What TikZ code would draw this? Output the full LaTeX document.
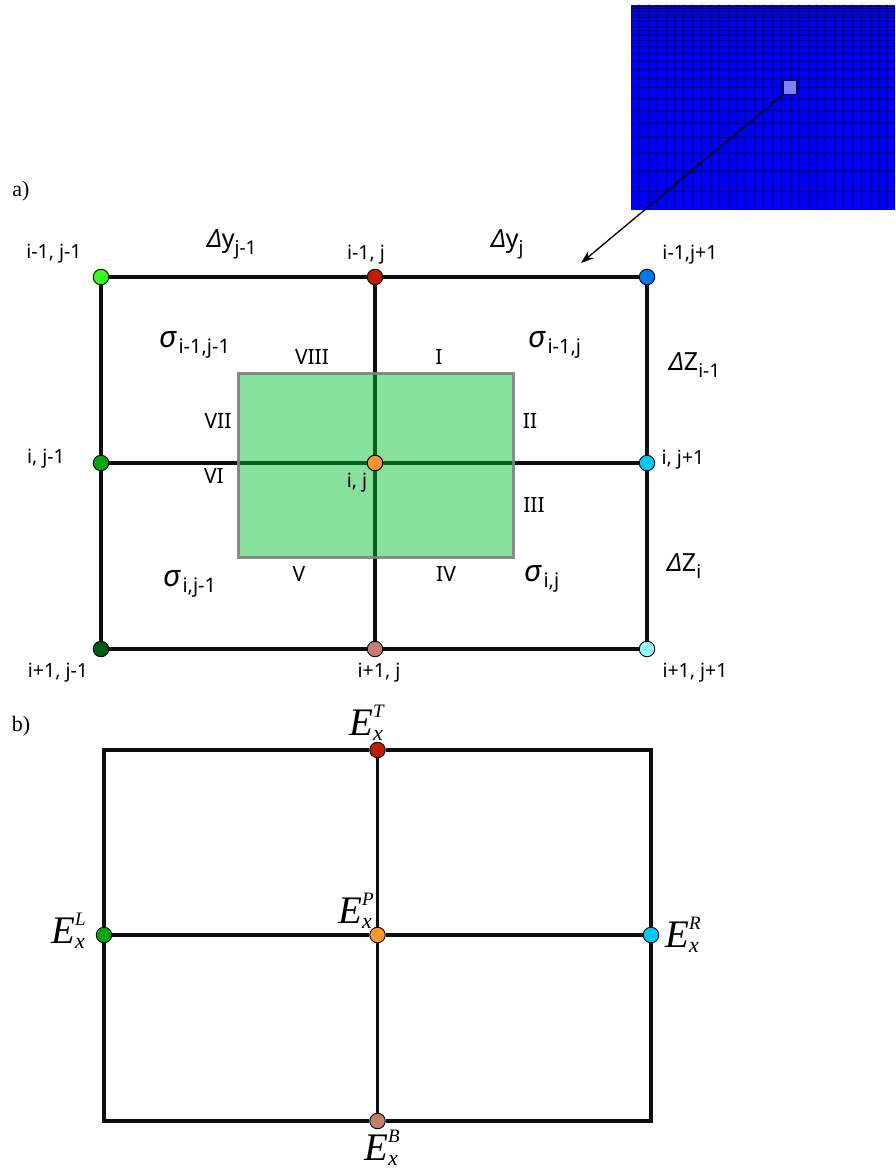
\documentclass[tikz,border=0pt]{standalone}
\usepackage{fontspec}
\setmainfont{Noto Sans}
\newfontfamily\seriffont{Liberation Serif}
\usepackage{tikz}
\usetikzlibrary{arrows.meta,positioning,calc}
\definecolor{meshblue}{RGB}{0,0,250}
\definecolor{meshline}{RGB}{0,0,110}
\definecolor{cellgreen}{RGB}{0,189,43}
\definecolor{dotlime}{RGB}{51,255,26}
\definecolor{dotred}{RGB}{190,30,0}
\definecolor{dotblue}{RGB}{0,120,235}
\definecolor{dotgreen}{RGB}{0,165,10}
\definecolor{dotorange}{RGB}{255,150,50}
\definecolor{dotcyan}{RGB}{0,200,255}
\definecolor{dotdark}{RGB}{0,90,15}
\definecolor{dotrose}{RGB}{195,125,115}
\definecolor{dotaqua}{RGB}{150,255,250}
\tikzset{
  dot/.style={circle,draw=black,line width=0.9pt,inner sep=0pt,minimum size=15.5pt},
  wire/.style={line width=3.2pt,black!95},
  lab/.style={inner sep=0pt,font=\fontsize{19.5}{22}\selectfont},
  roman/.style={inner sep=0pt,font=\fontsize{21}{24}\selectfont},
  greek/.style={inner sep=0pt,anchor=base west},
  tag/.style={inner sep=0pt,font=\seriffont\fontsize{22}{24}\selectfont},
}
\newcommand{\qty}[2]{\fontsize{25}{27}\selectfont #1\raisebox{-7pt}{\fontsize{19}{22}\selectfont #2}}
\newcommand{\cond}[1]{\fontsize{30}{32}\selectfont\textit{σ}\kern1.5pt\raisebox{-6pt}{\fontsize{20}{22}\selectfont #1}}
\newcommand{\efield}[1]{\seriffont\fontsize{39}{40}\selectfont\textit{E}\rlap{\raisebox{-5.5pt}{\fontsize{22}{22}\selectfont\textit{x}}}\raisebox{18pt}{\fontsize{19}{20}\selectfont\textit{#1}}}
\begin{document}
\begin{tikzpicture}[x=1pt,y=-1pt]
    \useasboundingbox (0,0) rectangle (895,1168);
    % mesh inset
    \fill[meshblue] (631,5) rectangle (895,210);
    \foreach \xpos in {0,...,29}
        \draw[meshline,line width=0.6pt] ({639.3+8.87*\xpos},5) -- ({639.3+8.87*\xpos},210);
    \foreach \xpos in {0,...,29}
        \draw[black!30,line width=0.6pt] ({639.3+8.87*\xpos},3.5) -- ({639.3+8.87*\xpos},5);
    \foreach \ypos in {6.7,8.7,11.7,14,17.3,21.3,26,30.7,35.3,40.7,46.7,53.3,60.7,69.3,78,87.3,98.7,110,123,137,153,171,191}
        \draw[black!70!blue,line width=0.55pt] (631,\ypos) -- (895,\ypos);
    \node[draw=meshline,fill=blue!50!white,line width=1.5pt,minimum size=14pt,inner sep=0pt] (cell) at (790,87.5) {};
    \coordinate (tip) at (581,263);
    \draw[-{Stealth[length=13pt,width=9pt]},line width=1.3pt] (cell.south west) -- (tip);
    % panel a
    \node[tag] (tagA) at (21,191) {a)};
    \node[dot,fill=dotlime] (a11) at (101,277) {};
    \node[dot,fill=dotred] (a12) at (375,277) {};
    \node[dot,fill=dotblue] (a13) at (647,277) {};
    \node[dot,fill=dotgreen] (a21) at (101,463) {};
    \node[dot,fill=dotorange] (a22) at (375,463) {};
    \node[dot,fill=dotcyan] (a23) at (647,463) {};
    \node[dot,fill=dotdark] (a31) at (101,649) {};
    \node[dot,fill=dotrose] (a32) at (375,649) {};
    \node[dot,fill=dotaqua] (a33) at (647,649) {};
    \draw[wire] (a11) -- (a12);
    \draw[wire] (a12) -- (a13);
    \draw[wire] (a21) -- (a22);
    \draw[wire] (a22) -- (a23);
    \draw[wire] (a31) -- (a32);
    \draw[wire] (a32) -- (a33);
    \draw[wire] (a11) -- (a21);
    \draw[wire] (a21) -- (a31);
    \draw[wire] (a12) -- (a22);
    \draw[wire] (a22) -- (a32);
    \draw[wire] (a13) -- (a23);
    \draw[wire] (a23) -- (a33);
    \fill[cellgreen,fill opacity=0.47] (238,373) rectangle (513,557);
    \draw[black!50,opacity=0.9,line width=3pt] (238,373) rectangle (513,557);
    \node[dot,fill=dotorange] at (a22) {};
    \node[lab] (l11) at (54,254) {i-1, j-1};
    \node[lab] (l12) at (366,255) {i-1, j};
    \node[lab] (l13) at (690,255) {i-1,j+1};
    \node[lab] (l21) at (46,459) {i, j-1};
    \node[lab] (l22) at (357,483) {i, j};
    \node[lab] (l23) at (683,460) {i, j+1};
    \node[lab] (l31) at (58,673) {i+1, j-1};
    \node[lab] (l32) at (379,673) {i+1, j};
    \node[lab] (l33) at (695,673) {i+1, j+1};
    \node[roman] (r1) at (439,357) {I};
    \node[roman] (r2) at (530,421) {II};
    \node[roman] (r3) at (534,505) {III};
    \node[roman] (r4) at (446,574) {IV};
    \node[roman] (r5) at (299,574) {V};
    \node[roman] (r6) at (214,476) {VI};
    \node[roman] (r7) at (218,421) {VII};
    \node[roman] (r8) at (312,357) {VIII};
    \node[greek] (dy1) at (207,247) {\qty{\textit{Δ}y}{j-1}};
    \node[greek] (dy2) at (491,247) {\qty{\textit{Δ}y}{j}};
    \node[greek] (dz1) at (669,370) {\qty{\textit{Δ}Z}{i-1}};
    \node[greek] (dz2) at (667,571) {\qty{\textit{Δ}Z}{i}};
    \node[greek] (s1) at (159,347) {\cond{i-1,j-1}};
    \node[greek] (s2) at (528,347) {\cond{i-1,j}};
    \node[greek] (s3) at (163,586) {\cond{i,j-1}};
    \node[greek] (s4) at (524,581) {\cond{i,j}};
    % panel b
    \node[tag] (tagB) at (21,726) {b)};
    \coordinate (b11) at (104,750);
    \node[dot,fill=dotred] (b12) at (377.5,750) {};
    \coordinate (b13) at (651,750);
    \node[dot,fill=dotgreen] (b21) at (104,935) {};
    \node[dot,fill=dotorange] (b22) at (377.5,935) {};
    \node[dot,fill=dotcyan] (b23) at (651,935) {};
    \coordinate (b31) at (104,1121);
    \node[dot,fill=dotrose] (b32) at (377.5,1121) {};
    \coordinate (b33) at (651,1121);
    \draw[wire,line join=miter] (b21) -- (b11) -- (b12);
    \draw[wire,line join=miter] (b12) -- (b13) -- (b23);
    \draw[wire,line join=miter] (b21) -- (b31) -- (b32);
    \draw[wire,line join=miter] (b32) -- (b33) -- (b23);
    \draw[wire] (b21) -- (b22);
    \draw[wire] (b22) -- (b23);
    \draw[wire] (b12) -- (b22);
    \draw[wire] (b22) -- (b32);
    \node[greek] (eT) at (349,735) {\efield{T}};
    \node[greek] (eP) at (338,923) {\efield{P}};
    \node[greek] (eL) at (51,943) {\efield{L}};
    \node[greek] (eR) at (665,947) {\efield{R}};
    \node[greek] (eB) at (364,1160) {\efield{B}};
\end{tikzpicture}
\end{document}
